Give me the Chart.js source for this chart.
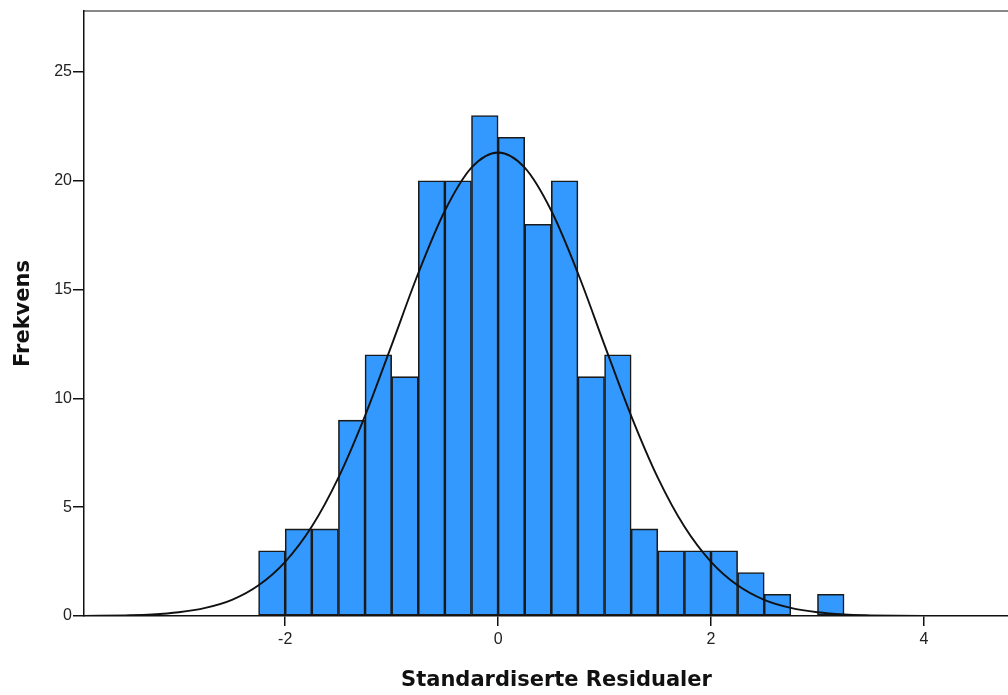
<!DOCTYPE html>
<html>
<head>
<meta charset="utf-8">
<script src="https://cdn.jsdelivr.net/npm/chart.js@4/dist/chart.umd.min.js"></script>
<style>
  html, body { margin: 0; padding: 0; background: #ffffff; overflow: hidden; }
  #c { display: block; }
</style>
</head>
<body>
<canvas id="c" width="1008" height="695"></canvas>
<script>
// Histogram bins (centres of 0.25-wide bins) and counts
const binCenters = [-2.125, -1.875, -1.625, -1.375, -1.125, -0.875, -0.625, -0.375, -0.125,
                    0.125, 0.375, 0.625, 0.875, 1.125, 1.375, 1.625, 1.875, 2.125, 2.375,
                    2.625, 2.875, 3.125];
const counts = [3, 4, 4, 9, 12, 11, 20, 20, 23, 22, 18, 20, 11, 12, 4, 3, 3, 3, 2, 1, 0, 1];

// Normal curve
const curveX = [-3.89, -3.5, -3.25, -3.0, -2.75, -2.5, -2.25, -2.0, -1.75, -1.5, -1.25, -1.0,
                -0.75, -0.5, -0.25, 0, 0.25, 0.5, 0.75, 1.0, 1.25, 1.5, 1.75, 2.0, 2.25,
                2.5, 2.75, 3.0, 3.25, 3.5, 3.75, 4.0, 4.5, 4.79];
const curveY = [0.0, 0.03, 0.07, 0.17, 0.37, 0.74, 1.41, 2.49, 4.11, 6.36, 9.2, 12.45,
                15.75, 18.62, 20.6, 21.3, 20.6, 18.62, 15.75, 12.45, 9.2, 6.36, 4.11, 2.49, 1.41,
                0.74, 0.37, 0.17, 0.07, 0.03, 0.01, 0.0, 0.0, 0.0];

const xTicks = [-2, 0, 2, 4];
const yTicks = [0, 5, 10, 15, 20, 25];

const xMin = -3.89, xMax = 4.79, yMin = 0, yMax = 27.8;

const barData = binCenters.map((x, i) => ({ x: x, y: counts[i] }));
const lineData = curveX.map((x, i) => ({ x: x, y: curveY[i] }));

const tickFont = { family: 'Liberation Sans, Arial, sans-serif', size: 16 };
const titleFont = { family: 'DejaVu Sans, sans-serif', size: 21, weight: 'bold' };

new Chart(document.getElementById('c'), {
  type: 'bar',
  data: {
    datasets: [
      {
        type: 'line',
        data: lineData,
        borderColor: '#111111',
        borderWidth: 1.9,
        pointRadius: 0,
        cubicInterpolationMode: 'monotone',
        fill: false,
        order: 0,
        xAxisID: 'x',
        yAxisID: 'y'
      },
      {
        type: 'bar',
        data: barData,
        backgroundColor: '#3399ff',
        borderColor: '#1a1a1a',
        borderWidth: 1.6,
        borderSkipped: false,
        barPercentage: 1.0,
        categoryPercentage: 1.0,
        grouped: false,
        order: 1,
        xAxisID: 'x',
        yAxisID: 'y'
      }
    ]
  },
  options: {
    responsive: false,
    animation: false,
    devicePixelRatio: 1,
    layout: { padding: { top: 11, left: 0, right: 0, bottom: 0 } },
    plugins: { legend: { display: false }, tooltip: { enabled: false } },
    scales: {
      x: {
        type: 'linear',
        position: 'bottom',
        min: xMin,
        max: xMax,
        offset: false,
        afterBuildTicks: (s) => { s.ticks = xTicks.map(v => ({ value: v })); },
        afterFit: (s) => { s.height = 79; },
        ticks: {
          font: tickFont,
          color: '#222222',
          padding: 4,
          maxRotation: 0,
          autoSkip: false,
          callback: (v) => String(v)
        },
        grid: { display: true, offset: false, drawOnChartArea: false, drawTicks: true, tickLength: 10, color: '#111111', lineWidth: 1.5 },
        border: { display: true, color: '#111111', width: 1.5 },
        title: { display: true, text: '\u2003Standardiserte Residualer', font: titleFont, color: '#111111', padding: { top: 0, bottom: 2 } }
      },
      x2: {
        type: 'linear',
        position: 'top',
        min: xMin,
        max: xMax,
        afterFit: (s) => { s.height = 0; },
        ticks: { display: false },
        grid: { display: false, drawTicks: false },
        border: { display: true, color: '#888888', width: 2 }
      },
      y: {
        type: 'linear',
        position: 'left',
        min: yMin,
        max: yMax,
        afterBuildTicks: (s) => { s.ticks = yTicks.map(v => ({ value: v })); },
        afterFit: (s) => { s.width = 84; },
        ticks: {
          font: tickFont,
          color: '#222222',
          padding: 1,
          callback: (v) => String(v)
        },
        grid: { display: true, drawOnChartArea: false, drawTicks: true, tickLength: 11, color: '#111111', lineWidth: 1.5 },
        border: { display: true, color: '#111111', width: 1.5 },
        title: { display: true, text: 'Frekvens', font: titleFont, color: '#111111', padding: { top: 11, bottom: 0 } }
      }
    }
  }
});
</script>
</body>
</html>
